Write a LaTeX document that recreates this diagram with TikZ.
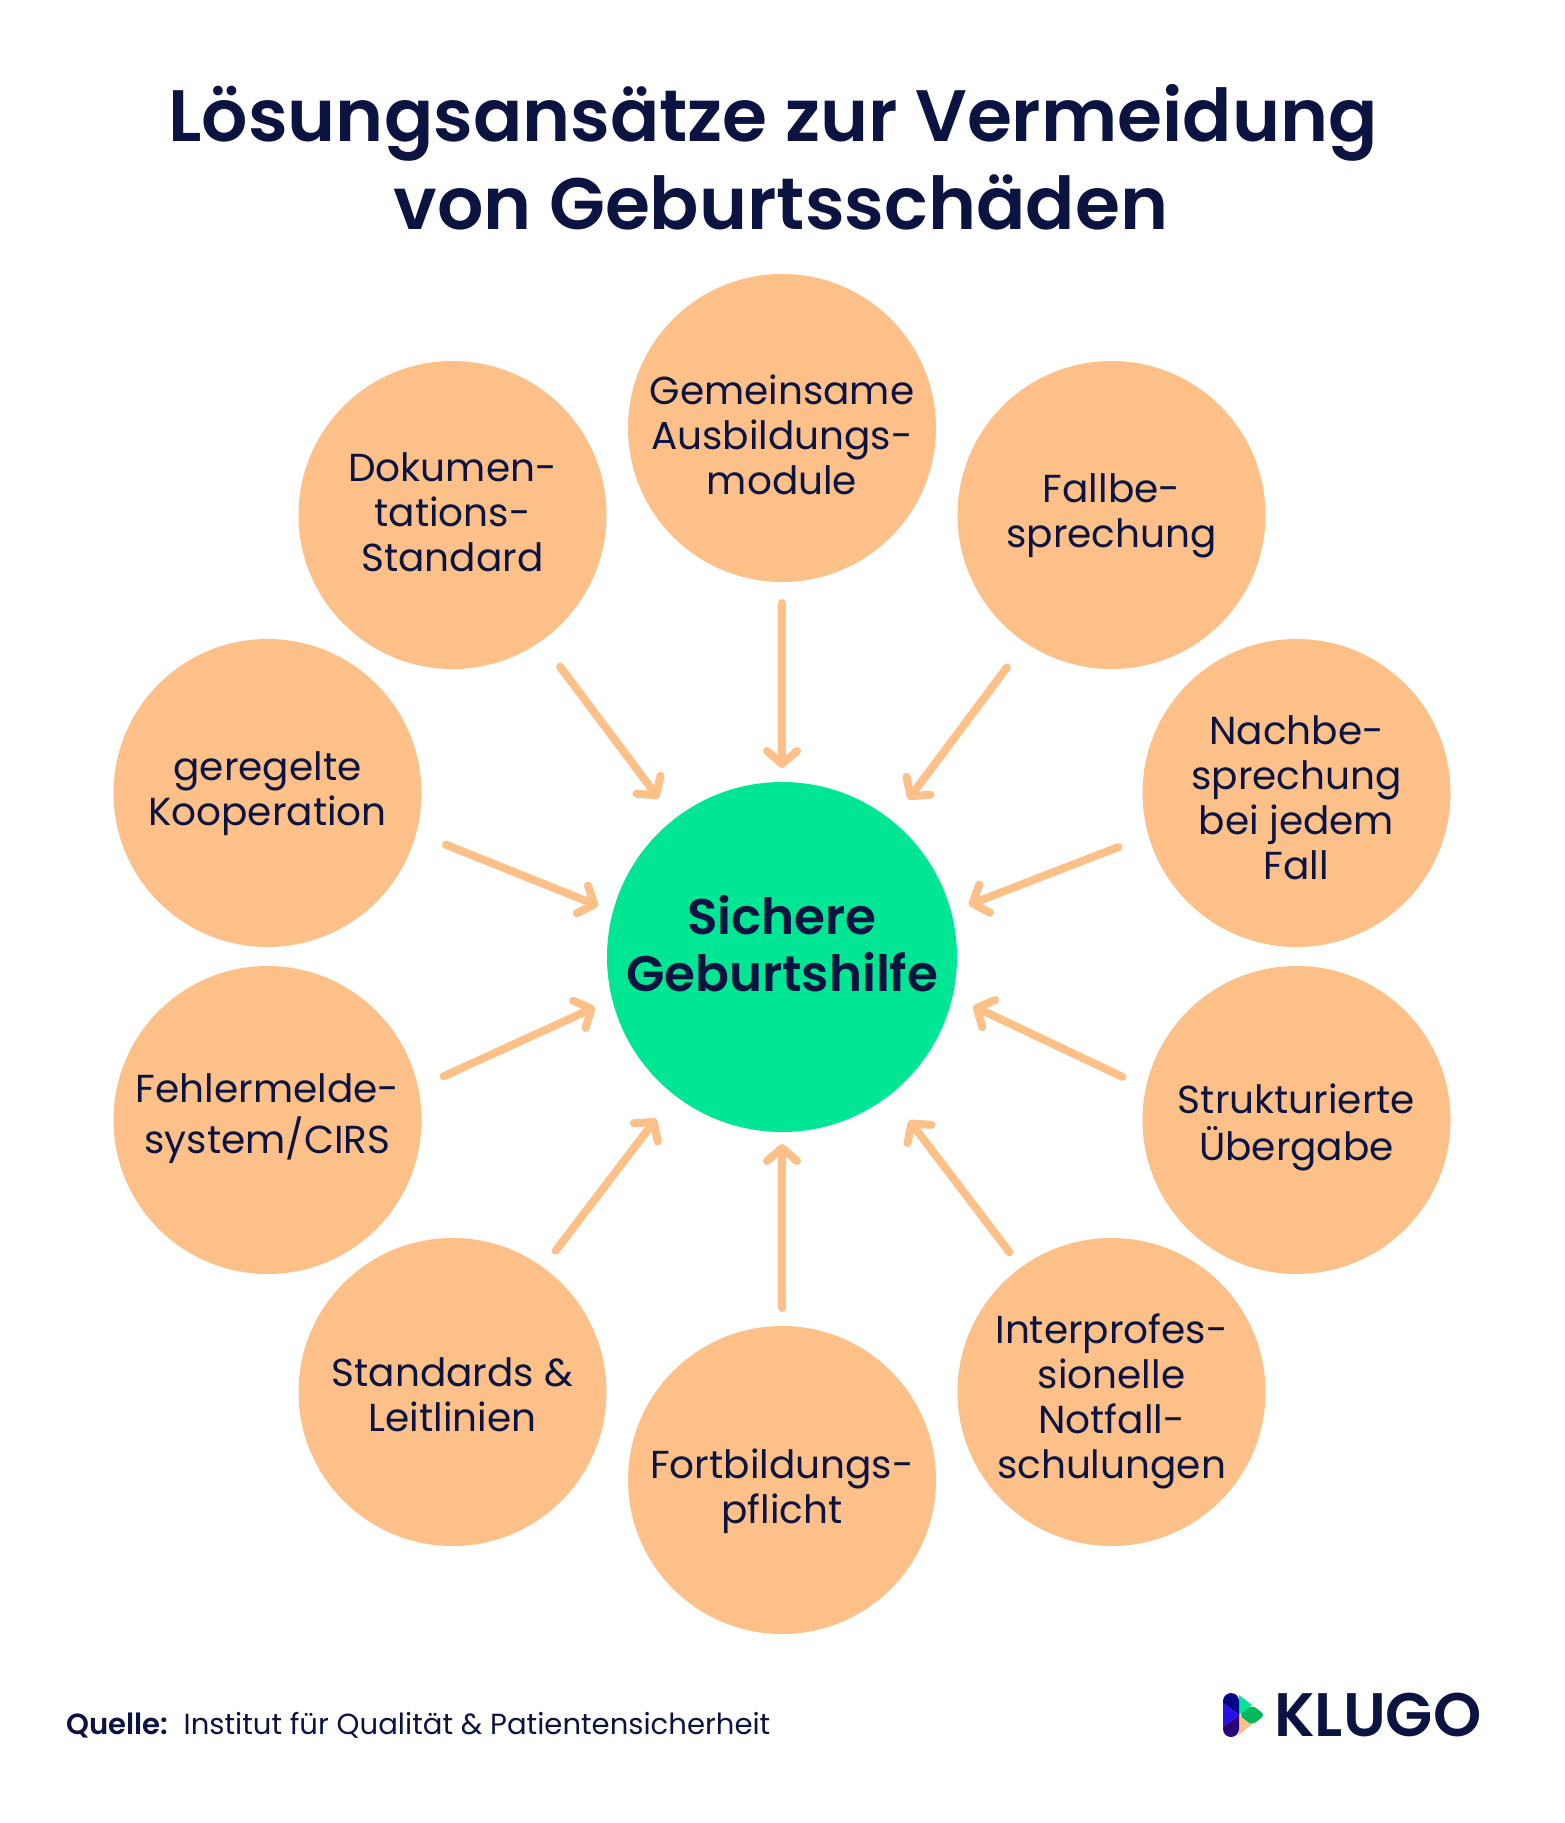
\documentclass[tikz,border=0pt]{standalone}
\usepackage{fontspec}
\setmainfont{Poppins}[BoldFont={Poppins SemiBold}]
\usepackage{xcolor}
\usetikzlibrary{arrows.meta}
\definecolor{navy}{HTML}{0B1340}
\definecolor{peach}{HTML}{FDC088}
\definecolor{mint}{HTML}{00E695}
\definecolor{logoTop}{HTML}{05058A}
\definecolor{logoMid}{HTML}{2A10E8}
\definecolor{logoLow}{HTML}{2A0078}
\definecolor{logoGreen}{HTML}{00B85C}
\newcommand{\lifted}[2]{\smash{\raisebox{\dimexpr#1-.25em}{\begin{tabular}{@{}c@{}}#2\end{tabular}}}}
\tikzstyle{topic} = [circle, minimum size = 308pt, inner sep = 0pt, outer sep = 0pt, fill = peach, text = navy, font = \fontsize{39}{45}\selectfont]
\tikzstyle{goal} = [circle, minimum size = 350pt, inner sep = 0pt, outer sep = 0pt, fill = mint, text = navy, font = \fontsize{50}{57}\selectfont\bfseries]
\tikzstyle{arrow} = [line width = 8pt, line cap = round, peach, -{Straight Barb[length=13pt,width=30pt,round]}]

\begin{document}
\begin{tikzpicture}[x=1pt, y=1pt, node distance = 327pt]
\useasboundingbox (0,0) rectangle (1564,-1823);

\node(Titel) [text = navy, align = center, font = \fontsize{72.8}{88}\selectfont\bfseries] at (781,-157) {Lösungsansätze zur Vermeidung\hspace*{16pt}\\von Geburtsschäden};

\node(Sichere) [goal] at (782,-957) {\lifted{11.5pt}{Sichere\\Geburtshilfe}};
\node(Gemeinsame) [topic, above of = Sichere, yshift=202pt] {\lifted{-9pt}{Gemeinsame\\Ausbildungs-\\module}};
\node(Fortbildung) [topic, below of = Sichere, yshift=-196pt] {\lifted{-8pt}{Fortbildungs-\\pflicht}};
\node(Fallbe) [topic, right of = Gemeinsame, xshift=2.5pt, yshift=-87pt] {\lifted{2.5pt}{Fallbe-\\sprechung}};
\node(Dokumen) [topic, left of = Gemeinsame, xshift=-2.5pt, yshift=-87pt] {\lifted{1.5pt}{Dokumen-\\tations-\\Standard}};
\node(Nachbe) [topic, below of = Fallbe, xshift=185pt, yshift=49pt] {\lifted{-6pt}{Nachbe-\\sprechung\\bei jedem\\Fall}};
\node(geregelte) [topic, below of = Dokumen, xshift=-185pt, yshift=49pt] {\lifted{2.5pt}{geregelte\\Kooperation}};
\node(Strukturierte) [topic, below of = Nachbe] {\lifted{-4.5pt}{Strukturierte\\Übergabe}};
\node(Fehlermelde) [topic, below of = geregelte] {\lifted{4.5pt}{Fehlermelde-\\system/CIRS}};
\node(Interprofes) [topic, right of = Fortbildung, xshift=2.5pt, yshift=88pt] {\lifted{-6pt}{Interprofes-\\sionelle\\Notfall-\\schulungen}};
\node(Standards) [topic, left of = Fortbildung, xshift=-2.5pt, yshift=88pt] {\lifted{-4.5pt}{Standards \&\\Leitlinien}};

\draw [arrow, shorten <=21pt, shorten >=14pt] (Gemeinsame.south) -- (Sichere.north);
\draw [arrow, shorten <=31pt, shorten >=27pt] (Fallbe.236) -- (Sichere.51);
\draw [arrow, shorten <=32pt, shorten >=19pt] (Nachbe.196) -- (Sichere.15);
\draw [arrow, shorten <=26pt, shorten >=23pt] (Strukturierte.168) -- (Sichere.-13);
\draw [arrow, shorten <=19pt, shorten >=32pt] (Interprofes.126) -- (Sichere.-52);
\draw [arrow, shorten <=18pt, shorten >=12pt] (Fortbildung.north) -- (Sichere.south);
\draw [arrow, shorten <=21pt, shorten >=30pt] (Standards.54) -- (Sichere.232);
\draw [arrow, shorten <=28pt, shorten >=19pt] (Fehlermelde.12.5) -- (Sichere.194);
\draw [arrow, shorten <=32pt, shorten >=16pt] (geregelte.-15) -- (Sichere.165);
\draw [arrow, shorten <=32pt, shorten >=26pt] (Dokumen.-55) -- (Sichere.128);

\node(Quelle) [anchor = west, inner sep = 0pt, text = navy, font = \fontsize{29.1}{34}\selectfont] at (66,-1725) {\textbf{Quelle:}\ \ Institut für Qualität \& Patientensicherheit};
\node(Klugo) [anchor = west, inner sep = 0pt, text = navy, font = \fontsize{61.4}{70}\selectfont\bfseries] at (1274,-1715) {KLUGO};

% logo mark
\fill [mint] (1239,-1695) -- (1252,-1705) -- (1239,-1715) -- cycle;
\fill [peach] (1239,-1715) -- (1252,-1724) -- (1239,-1735) -- cycle;
\fill [logoGreen, rounded corners=4pt] (1239,-1715) -- (1252,-1705) -- (1265,-1715) -- (1252,-1725) -- cycle;
\fill [logoTop] (1223,-1701) arc (180:0:8) -- (1239,-1715) -- (1223,-1703) -- cycle;
\fill [logoMid] (1223,-1703) -- (1239,-1715) -- (1223,-1727) -- cycle;
\fill [logoLow] (1223,-1727) -- (1239,-1715) -- (1239,-1729) arc (0:-180:8) -- cycle;
\end{tikzpicture}
\end{document}
